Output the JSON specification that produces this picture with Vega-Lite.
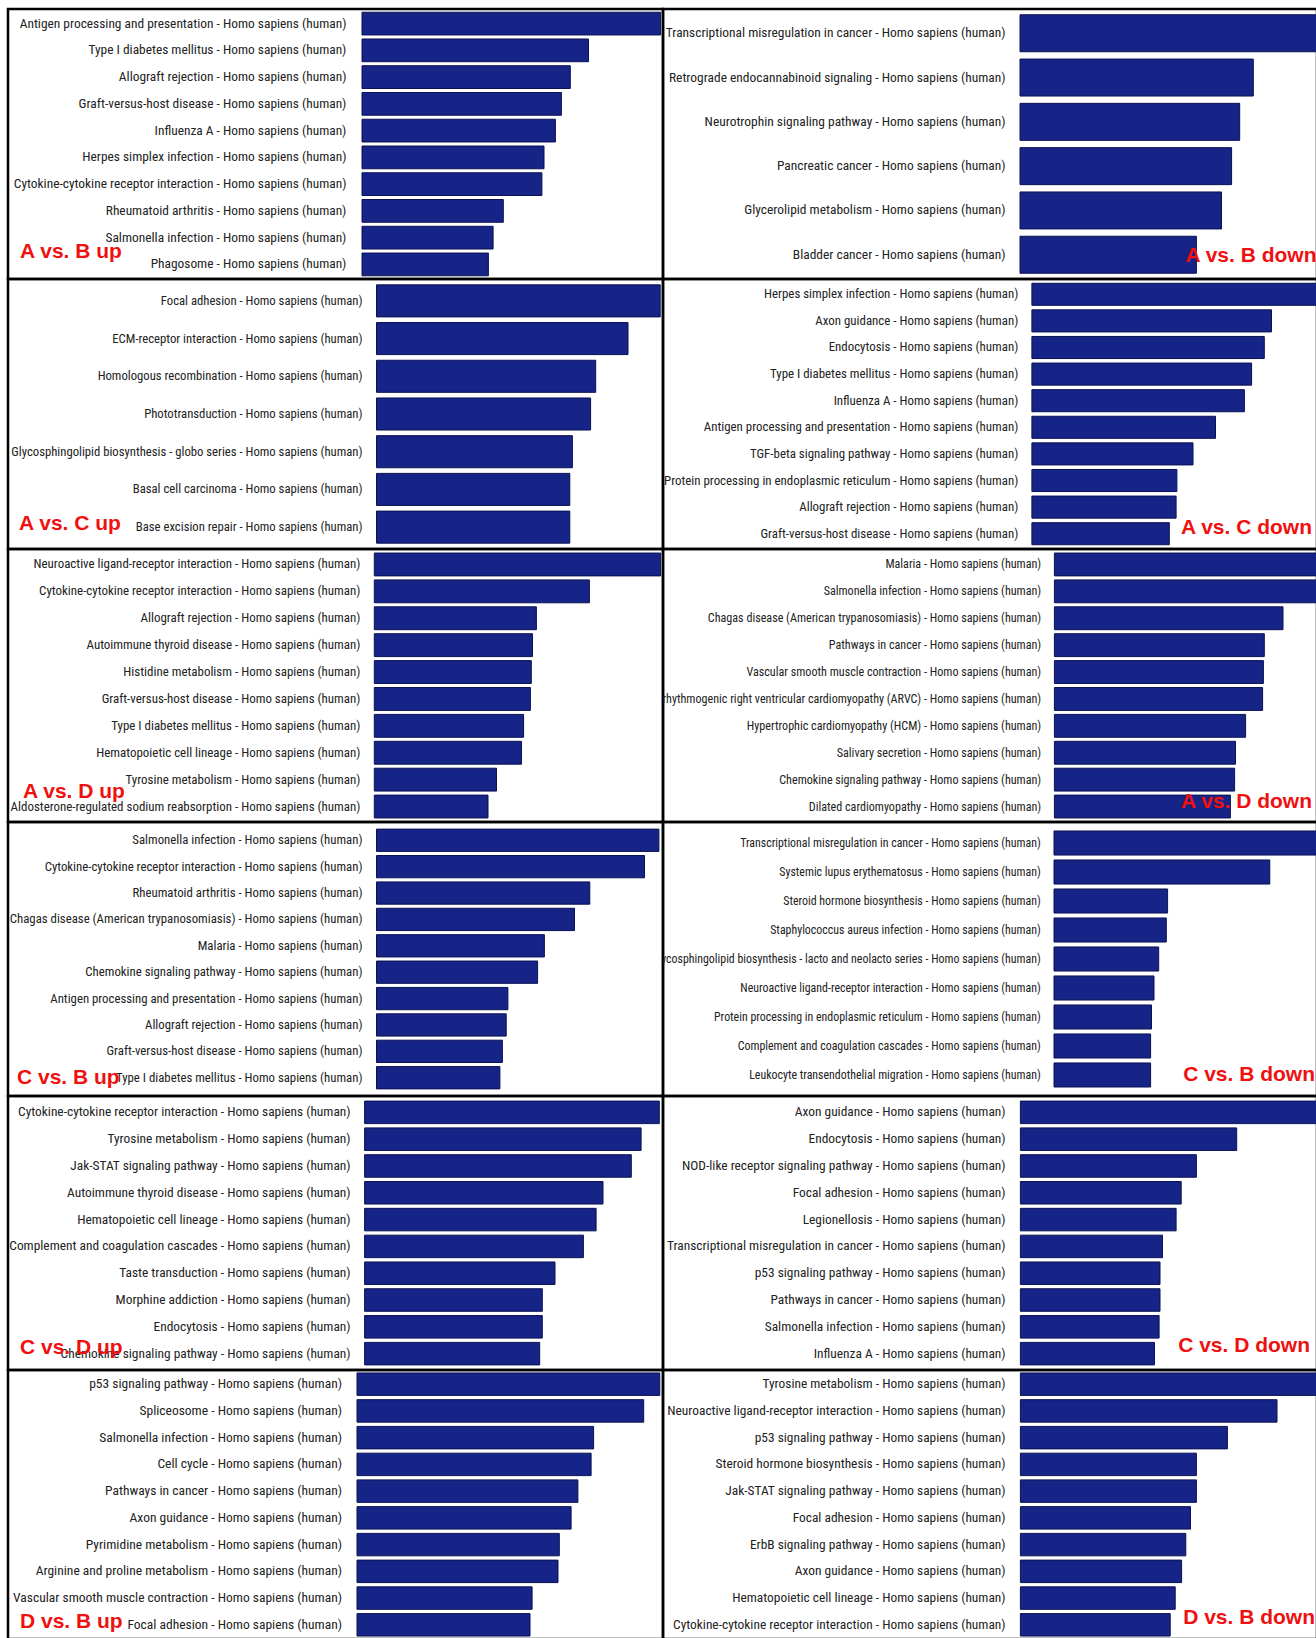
{
  "$schema": "https://vega.github.io/schema/vega-lite/v6.json",
  "background": "white",
  "padding": {"left": 6, "top": 7, "right": 0, "bottom": 0},
  "config": {
    "view": {"stroke": "#000000", "strokeWidth": 2.5},
    "concat": {"spacing": 0},
    "title": {"color": "#f01010", "font": "Liberation Sans", "fontSize": 21, "fontWeight": "bold", "orient": "bottom", "frame": "group", "baseline": "alphabetic"},
    "text": {"font": "Roboto Condensed", "color": "#222222", "align": "right", "baseline": "middle"},
    "bar": {"color": "#162387", "stroke": "#0b1252", "strokeWidth": 1}
  },
  "datasets": {
    "kegg": [
      {"panel": "A vs. B up", "term": "Antigen processing and presentation - Homo sapiens (human)", "score": 298.6},
      {"panel": "A vs. B up", "term": "Type I diabetes mellitus - Homo sapiens (human)", "score": 226.5},
      {"panel": "A vs. B up", "term": "Allograft rejection - Homo sapiens (human)", "score": 208.3},
      {"panel": "A vs. B up", "term": "Graft-versus-host disease - Homo sapiens (human)", "score": 199.4},
      {"panel": "A vs. B up", "term": "Influenza A - Homo sapiens (human)", "score": 193.4},
      {"panel": "A vs. B up", "term": "Herpes simplex infection - Homo sapiens (human)", "score": 182.0},
      {"panel": "A vs. B up", "term": "Cytokine-cytokine receptor interaction - Homo sapiens (human)", "score": 179.9},
      {"panel": "A vs. B up", "term": "Rheumatoid arthritis - Homo sapiens (human)", "score": 141.3},
      {"panel": "A vs. B up", "term": "Salmonella infection - Homo sapiens (human)", "score": 131.1},
      {"panel": "A vs. B up", "term": "Phagosome - Homo sapiens (human)", "score": 126.4},

      {"panel": "A vs. B down", "term": "Transcriptional misregulation in cancer - Homo sapiens (human)", "score": 299.4},
      {"panel": "A vs. B down", "term": "Retrograde endocannabinoid signaling - Homo sapiens (human)", "score": 233.3},
      {"panel": "A vs. B down", "term": "Neurotrophin signaling pathway - Homo sapiens (human)", "score": 219.7},
      {"panel": "A vs. B down", "term": "Pancreatic cancer - Homo sapiens (human)", "score": 211.6},
      {"panel": "A vs. B down", "term": "Glycerolipid metabolism - Homo sapiens (human)", "score": 201.5},
      {"panel": "A vs. B down", "term": "Bladder cancer - Homo sapiens (human)", "score": 176.4},

      {"panel": "A vs. C up", "term": "Focal adhesion - Homo sapiens (human)", "score": 283.7},
      {"panel": "A vs. C up", "term": "ECM-receptor interaction - Homo sapiens (human)", "score": 251.5},
      {"panel": "A vs. C up", "term": "Homologous recombination - Homo sapiens (human)", "score": 219.2},
      {"panel": "A vs. C up", "term": "Phototransduction - Homo sapiens (human)", "score": 214.1},
      {"panel": "A vs. C up", "term": "Glycosphingolipid biosynthesis - globo series - Homo sapiens (human)", "score": 195.9},
      {"panel": "A vs. C up", "term": "Basal cell carcinoma - Homo sapiens (human)", "score": 193.3},
      {"panel": "A vs. C up", "term": "Base excision repair - Homo sapiens (human)", "score": 193.3},

      {"panel": "A vs. C down", "term": "Herpes simplex infection - Homo sapiens (human)", "score": 287.5},
      {"panel": "A vs. C down", "term": "Axon guidance - Homo sapiens (human)", "score": 239.6},
      {"panel": "A vs. C down", "term": "Endocytosis - Homo sapiens (human)", "score": 232.4},
      {"panel": "A vs. C down", "term": "Type I diabetes mellitus - Homo sapiens (human)", "score": 219.7},
      {"panel": "A vs. C down", "term": "Influenza A - Homo sapiens (human)", "score": 212.5},
      {"panel": "A vs. C down", "term": "Antigen processing and presentation - Homo sapiens (human)", "score": 183.6},
      {"panel": "A vs. C down", "term": "TGF-beta signaling pathway - Homo sapiens (human)", "score": 161.1},
      {"panel": "A vs. C down", "term": "Protein processing in endoplasmic reticulum - Homo sapiens (human)", "score": 145.0},
      {"panel": "A vs. C down", "term": "Allograft rejection - Homo sapiens (human)", "score": 144.2},
      {"panel": "A vs. C down", "term": "Graft-versus-host disease - Homo sapiens (human)", "score": 137.4},

      {"panel": "A vs. D up", "term": "Neuroactive ligand-receptor interaction - Homo sapiens (human)", "score": 286.3},
      {"panel": "A vs. D up", "term": "Cytokine-cytokine receptor interaction - Homo sapiens (human)", "score": 215.1},
      {"panel": "A vs. D up", "term": "Allograft rejection - Homo sapiens (human)", "score": 162.1},
      {"panel": "A vs. D up", "term": "Autoimmune thyroid disease - Homo sapiens (human)", "score": 158.2},
      {"panel": "A vs. D up", "term": "Histidine metabolism - Homo sapiens (human)", "score": 157.0},
      {"panel": "A vs. D up", "term": "Graft-versus-host disease - Homo sapiens (human)", "score": 156.1},
      {"panel": "A vs. D up", "term": "Type I diabetes mellitus - Homo sapiens (human)", "score": 149.3},
      {"panel": "A vs. D up", "term": "Hematopoietic cell lineage - Homo sapiens (human)", "score": 147.2},
      {"panel": "A vs. D up", "term": "Tyrosine metabolism - Homo sapiens (human)", "score": 122.2},
      {"panel": "A vs. D up", "term": "Aldosterone-regulated sodium reabsorption - Homo sapiens (human)", "score": 113.7},

      {"panel": "A vs. D down", "term": "Malaria - Homo sapiens (human)", "score": 265.0},
      {"panel": "A vs. D down", "term": "Salmonella infection - Homo sapiens (human)", "score": 264.2},
      {"panel": "A vs. D down", "term": "Chagas disease (American trypanosomiasis) - Homo sapiens (human)", "score": 228.6},
      {"panel": "A vs. D down", "term": "Pathways in cancer - Homo sapiens (human)", "score": 209.9},
      {"panel": "A vs. D down", "term": "Vascular smooth muscle contraction - Homo sapiens (human)", "score": 209.0},
      {"panel": "A vs. D down", "term": "Arrhythmogenic right ventricular cardiomyopathy (ARVC) - Homo sapiens (human)", "score": 208.2},
      {"panel": "A vs. D down", "term": "Hypertrophic cardiomyopathy (HCM) - Homo sapiens (human)", "score": 191.2},
      {"panel": "A vs. D down", "term": "Salivary secretion - Homo sapiens (human)", "score": 181.1},
      {"panel": "A vs. D down", "term": "Chemokine signaling pathway - Homo sapiens (human)", "score": 180.2},
      {"panel": "A vs. D down", "term": "Dilated cardiomyopathy - Homo sapiens (human)", "score": 176.0},

      {"panel": "C vs. B up", "term": "Salmonella infection - Homo sapiens (human)", "score": 282.4},
      {"panel": "C vs. B up", "term": "Cytokine-cytokine receptor interaction - Homo sapiens (human)", "score": 268.0},
      {"panel": "C vs. B up", "term": "Rheumatoid arthritis - Homo sapiens (human)", "score": 213.3},
      {"panel": "C vs. B up", "term": "Chagas disease (American trypanosomiasis) - Homo sapiens (human)", "score": 198.0},
      {"panel": "C vs. B up", "term": "Malaria - Homo sapiens (human)", "score": 167.9},
      {"panel": "C vs. B up", "term": "Chemokine signaling pathway - Homo sapiens (human)", "score": 161.1},
      {"panel": "C vs. B up", "term": "Antigen processing and presentation - Homo sapiens (human)", "score": 131.4},
      {"panel": "C vs. B up", "term": "Allograft rejection - Homo sapiens (human)", "score": 129.7},
      {"panel": "C vs. B up", "term": "Graft-versus-host disease - Homo sapiens (human)", "score": 125.9},
      {"panel": "C vs. B up", "term": "Type I diabetes mellitus - Homo sapiens (human)", "score": 123.4},

      {"panel": "C vs. B down", "term": "Transcriptional misregulation in cancer - Homo sapiens (human)", "score": 264.6},
      {"panel": "C vs. B down", "term": "Systemic lupus erythematosus - Homo sapiens (human)", "score": 215.8},
      {"panel": "C vs. B down", "term": "Steroid hormone biosynthesis - Homo sapiens (human)", "score": 113.6},
      {"panel": "C vs. B down", "term": "Staphylococcus aureus infection - Homo sapiens (human)", "score": 112.3},
      {"panel": "C vs. B down", "term": "Glycosphingolipid biosynthesis - lacto and neolacto series - Homo sapiens (human)", "score": 104.7},
      {"panel": "C vs. B down", "term": "Neuroactive ligand-receptor interaction - Homo sapiens (human)", "score": 100.0},
      {"panel": "C vs. B down", "term": "Protein processing in endoplasmic reticulum - Homo sapiens (human)", "score": 97.5},
      {"panel": "C vs. B down", "term": "Complement and coagulation cascades - Homo sapiens (human)", "score": 96.6},
      {"panel": "C vs. B down", "term": "Leukocyte transendothelial migration - Homo sapiens (human)", "score": 96.6},

      {"panel": "C vs. D up", "term": "Cytokine-cytokine receptor interaction - Homo sapiens (human)", "score": 294.7},
      {"panel": "C vs. D up", "term": "Tyrosine metabolism - Homo sapiens (human)", "score": 276.5},
      {"panel": "C vs. D up", "term": "Jak-STAT signaling pathway - Homo sapiens (human)", "score": 266.7},
      {"panel": "C vs. D up", "term": "Autoimmune thyroid disease - Homo sapiens (human)", "score": 238.4},
      {"panel": "C vs. D up", "term": "Hematopoietic cell lineage - Homo sapiens (human)", "score": 231.5},
      {"panel": "C vs. D up", "term": "Complement and coagulation cascades - Homo sapiens (human)", "score": 218.8},
      {"panel": "C vs. D up", "term": "Taste transduction - Homo sapiens (human)", "score": 190.4},
      {"panel": "C vs. D up", "term": "Morphine addiction - Homo sapiens (human)", "score": 177.7},
      {"panel": "C vs. D up", "term": "Endocytosis - Homo sapiens (human)", "score": 177.7},
      {"panel": "C vs. D up", "term": "Chemokine signaling pathway - Homo sapiens (human)", "score": 175.1},

      {"panel": "C vs. D down", "term": "Axon guidance - Homo sapiens (human)", "score": 299.0},
      {"panel": "C vs. D down", "term": "Endocytosis - Homo sapiens (human)", "score": 216.3},
      {"panel": "C vs. D down", "term": "NOD-like receptor signaling pathway - Homo sapiens (human)", "score": 176.0},
      {"panel": "C vs. D down", "term": "Focal adhesion - Homo sapiens (human)", "score": 160.8},
      {"panel": "C vs. D down", "term": "Legionellosis - Homo sapiens (human)", "score": 155.7},
      {"panel": "C vs. D down", "term": "Transcriptional misregulation in cancer - Homo sapiens (human)", "score": 142.1},
      {"panel": "C vs. D down", "term": "p53 signaling pathway - Homo sapiens (human)", "score": 139.6},
      {"panel": "C vs. D down", "term": "Pathways in cancer - Homo sapiens (human)", "score": 139.6},
      {"panel": "C vs. D down", "term": "Salmonella infection - Homo sapiens (human)", "score": 138.7},
      {"panel": "C vs. D down", "term": "Influenza A - Homo sapiens (human)", "score": 134.1},

      {"panel": "D vs. B up", "term": "p53 signaling pathway - Homo sapiens (human)", "score": 302.8},
      {"panel": "D vs. B up", "term": "Spliceosome - Homo sapiens (human)", "score": 286.7},
      {"panel": "D vs. B up", "term": "Salmonella infection - Homo sapiens (human)", "score": 236.6},
      {"panel": "D vs. B up", "term": "Cell cycle - Homo sapiens (human)", "score": 234.1},
      {"panel": "D vs. B up", "term": "Pathways in cancer - Homo sapiens (human)", "score": 220.9},
      {"panel": "D vs. B up", "term": "Axon guidance - Homo sapiens (human)", "score": 214.1},
      {"panel": "D vs. B up", "term": "Pyrimidine metabolism - Homo sapiens (human)", "score": 202.3},
      {"panel": "D vs. B up", "term": "Arginine and proline metabolism - Homo sapiens (human)", "score": 201.0},
      {"panel": "D vs. B up", "term": "Vascular smooth muscle contraction - Homo sapiens (human)", "score": 175.1},
      {"panel": "D vs. B up", "term": "Focal adhesion - Homo sapiens (human)", "score": 173.0},

      {"panel": "D vs. B down", "term": "Tyrosine metabolism - Homo sapiens (human)", "score": 299.0},
      {"panel": "D vs. B down", "term": "Neuroactive ligand-receptor interaction - Homo sapiens (human)", "score": 256.6},
      {"panel": "D vs. B down", "term": "p53 signaling pathway - Homo sapiens (human)", "score": 207.0},
      {"panel": "D vs. B down", "term": "Steroid hormone biosynthesis - Homo sapiens (human)", "score": 176.0},
      {"panel": "D vs. B down", "term": "Jak-STAT signaling pathway - Homo sapiens (human)", "score": 176.0},
      {"panel": "D vs. B down", "term": "Focal adhesion - Homo sapiens (human)", "score": 170.1},
      {"panel": "D vs. B down", "term": "ErbB signaling pathway - Homo sapiens (human)", "score": 165.4},
      {"panel": "D vs. B down", "term": "Axon guidance - Homo sapiens (human)", "score": 161.2},
      {"panel": "D vs. B down", "term": "Hematopoietic cell lineage - Homo sapiens (human)", "score": 154.8},
      {"panel": "D vs. B down", "term": "Cytokine-cytokine receptor interaction - Homo sapiens (human)", "score": 149.8}
    ]
  },
  "data": {"name": "kegg"},
  "columns": 2,
  "spacing": 0,
  "bounds": "flush",
  "resolve": {"scale": {"x": "independent", "y": "independent"}},
  "concat": [
    {
      "width": 655, "height": 270,
      "transform": [{"filter": {"field": "panel", "equal": "A vs. B up"}}],
      "title": {"text": "A vs. B up", "anchor": "start", "dx": 12, "offset": -18, "dy": -20},
      "encoding": {"y": {"field": "term", "type": "nominal", "sort": null, "axis": null, "scale": {"paddingInner": 0.15, "paddingOuter": 0.12}}},
      "layer": [
        {"mark": {"type": "bar", "clip": true},
         "encoding": {"x": {"field": "score", "type": "quantitative", "axis": null, "scale": {"domain": [0, 298.6], "range": [354, 652.6], "nice": false}}}},
        {"mark": {"type": "text", "dx": -15.6, "clip": true, "fontSize": 13.4},
         "encoding": {"x": {"datum": 0}, "text": {"field": "term"}}}
      ]
    },
    {
      "width": 654, "height": 270,
      "transform": [{"filter": {"field": "panel", "equal": "A vs. B down"}}],
      "title": {"text": "A vs. B down", "anchor": "end", "dx": -0.5, "offset": -14, "dy": -20},
      "encoding": {"y": {"field": "term", "type": "nominal", "sort": null, "axis": null, "scale": {"paddingInner": 0.165, "paddingOuter": 0.13}}},
      "layer": [
        {"mark": {"type": "bar", "clip": true},
         "encoding": {"x": {"field": "score", "type": "quantitative", "axis": null, "scale": {"domain": [0, 299.4], "range": [357, 656.4], "nice": false}}}},
        {"mark": {"type": "text", "dx": -14.4, "clip": true, "fontSize": 13.45},
         "encoding": {"x": {"datum": 0}, "text": {"field": "term"}}}
      ]
    },
    {
      "width": 655, "height": 270,
      "transform": [{"filter": {"field": "panel", "equal": "A vs. C up"}}],
      "title": {"text": "A vs. C up", "anchor": "start", "dx": 11, "offset": -17, "dy": -19},
      "encoding": {"y": {"field": "term", "type": "nominal", "sort": null, "axis": null, "scale": {"paddingInner": 0.15, "paddingOuter": 0.155}}},
      "layer": [
        {"mark": {"type": "bar", "clip": true},
         "encoding": {"x": {"field": "score", "type": "quantitative", "axis": null, "scale": {"domain": [0, 283.7], "range": [368.5, 652.2], "nice": false}}}},
        {"mark": {"type": "text", "dx": -14, "clip": true, "fontSize": 12.7},
         "encoding": {"x": {"datum": 0}, "text": {"field": "term"}}}
      ]
    },
    {
      "width": 654, "height": 270,
      "transform": [{"filter": {"field": "panel", "equal": "A vs. C down"}}],
      "title": {"text": "A vs. C down", "anchor": "end", "dx": -5, "offset": -15, "dy": -17},
      "encoding": {"y": {"field": "term", "type": "nominal", "sort": null, "axis": null, "scale": {"paddingInner": 0.17, "paddingOuter": 0.16}}},
      "layer": [
        {"mark": {"type": "bar", "clip": true},
         "encoding": {"x": {"field": "score", "type": "quantitative", "axis": null, "scale": {"domain": [0, 287.5], "range": [368.9, 656.4], "nice": false}}}},
        {"mark": {"type": "text", "dx": -13.6, "clip": true, "fontSize": 12.9},
         "encoding": {"x": {"datum": 0}, "text": {"field": "term"}}}
      ]
    },
    {
      "width": 655, "height": 273,
      "transform": [{"filter": {"field": "panel", "equal": "A vs. D up"}}],
      "title": {"text": "A vs. D up", "anchor": "start", "dx": 15, "offset": -22, "dy": -19},
      "encoding": {"y": {"field": "term", "type": "nominal", "sort": null, "axis": null, "scale": {"paddingInner": 0.15, "paddingOuter": 0.15}}},
      "layer": [
        {"mark": {"type": "bar", "clip": true},
         "encoding": {"x": {"field": "score", "type": "quantitative", "axis": null, "scale": {"domain": [0, 286.3], "range": [366.3, 652.6], "nice": false}}}},
        {"mark": {"type": "text", "dx": -13.9, "clip": true, "fontSize": 12.95},
         "encoding": {"x": {"datum": 0}, "text": {"field": "term"}}}
      ]
    },
    {
      "width": 654, "height": 273,
      "transform": [{"filter": {"field": "panel", "equal": "A vs. D down"}}],
      "title": {"text": "A vs. D down", "anchor": "end", "dx": -5, "offset": -12, "dy": -19},
      "encoding": {"y": {"field": "term", "type": "nominal", "sort": null, "axis": null, "scale": {"paddingInner": 0.15, "paddingOuter": 0.15}}},
      "layer": [
        {"mark": {"type": "bar", "clip": true},
         "encoding": {"x": {"field": "score", "type": "quantitative", "axis": null, "scale": {"domain": [0, 265.0], "range": [391.4, 656.4], "nice": false}}}},
        {"mark": {"type": "text", "dx": -13.2, "clip": true, "fontSize": 12.1},
         "encoding": {"x": {"datum": 0}, "text": {"field": "term"}}}
      ]
    },
    {
      "width": 655, "height": 274,
      "transform": [{"filter": {"field": "panel", "equal": "C vs. B up"}}],
      "title": {"text": "C vs. B up", "anchor": "start", "dx": 9, "offset": -11, "dy": -18},
      "encoding": {"y": {"field": "term", "type": "nominal", "sort": null, "axis": null, "scale": {"paddingInner": 0.155, "paddingOuter": 0.27}}},
      "layer": [
        {"mark": {"type": "bar", "clip": true},
         "encoding": {"x": {"field": "score", "type": "quantitative", "axis": null, "scale": {"domain": [0, 282.4], "range": [368.5, 650.9], "nice": false}}}},
        {"mark": {"type": "text", "dx": -14, "clip": true, "fontSize": 12.8},
         "encoding": {"x": {"datum": 0}, "text": {"field": "term"}}}
      ]
    },
    {
      "width": 654, "height": 274,
      "transform": [{"filter": {"field": "panel", "equal": "C vs. B down"}}],
      "title": {"text": "C vs. B down", "anchor": "end", "dx": -2, "offset": -13, "dy": -19},
      "encoding": {"y": {"field": "term", "type": "nominal", "sort": null, "axis": null, "scale": {"paddingInner": 0.17, "paddingOuter": 0.31}}},
      "layer": [
        {"mark": {"type": "bar", "clip": true},
         "encoding": {"x": {"field": "score", "type": "quantitative", "axis": null, "scale": {"domain": [0, 264.6], "range": [391, 655.6], "nice": false}}}},
        {"mark": {"type": "text", "dx": -13.2, "clip": true, "fontSize": 11.9},
         "encoding": {"x": {"datum": 0}, "text": {"field": "term"}}}
      ]
    },
    {
      "width": 655, "height": 274,
      "transform": [{"filter": {"field": "panel", "equal": "C vs. D up"}}],
      "title": {"text": "C vs. D up", "anchor": "start", "dx": 12, "offset": -13, "dy": -20},
      "encoding": {"y": {"field": "term", "type": "nominal", "sort": null, "axis": null, "scale": {"paddingInner": 0.16, "paddingOuter": 0.19}}},
      "layer": [
        {"mark": {"type": "bar", "clip": true},
         "encoding": {"x": {"field": "score", "type": "quantitative", "axis": null, "scale": {"domain": [0, 294.7], "range": [356.6, 651.3], "nice": false}}}},
        {"mark": {"type": "text", "dx": -14, "clip": true, "fontSize": 13.4},
         "encoding": {"x": {"datum": 0}, "text": {"field": "term"}}}
      ]
    },
    {
      "width": 654, "height": 274,
      "transform": [{"filter": {"field": "panel", "equal": "C vs. D down"}}],
      "title": {"text": "C vs. D down", "anchor": "end", "dx": -7, "offset": -15, "dy": -20},
      "encoding": {"y": {"field": "term", "type": "nominal", "sort": null, "axis": null, "scale": {"paddingInner": 0.16, "paddingOuter": 0.19}}},
      "layer": [
        {"mark": {"type": "bar", "clip": true},
         "encoding": {"x": {"field": "score", "type": "quantitative", "axis": null, "scale": {"domain": [0, 299.0], "range": [357.4, 656.4], "nice": false}}}},
        {"mark": {"type": "text", "dx": -14.8, "clip": true, "fontSize": 13.4},
         "encoding": {"x": {"datum": 0}, "text": {"field": "term"}}}
      ]
    },
    {
      "width": 655, "height": 269,
      "transform": [{"filter": {"field": "panel", "equal": "D vs. B up"}}],
      "title": {"text": "D vs. B up", "anchor": "start", "dx": 12, "offset": -9, "dy": -19},
      "encoding": {"y": {"field": "term", "type": "nominal", "sort": null, "axis": null, "scale": {"paddingInner": 0.16, "paddingOuter": 0.11}}},
      "layer": [
        {"mark": {"type": "bar", "clip": true},
         "encoding": {"x": {"field": "score", "type": "quantitative", "axis": null, "scale": {"domain": [0, 302.8], "range": [349, 651.8], "nice": false}}}},
        {"mark": {"type": "text", "dx": -14.9, "clip": true, "fontSize": 13.5},
         "encoding": {"x": {"datum": 0}, "text": {"field": "term"}}}
      ]
    },
    {
      "width": 654, "height": 269,
      "transform": [{"filter": {"field": "panel", "equal": "D vs. B down"}}],
      "title": {"text": "D vs. B down", "anchor": "end", "dx": -2, "offset": -12, "dy": -20},
      "encoding": {"y": {"field": "term", "type": "nominal", "sort": null, "axis": null, "scale": {"paddingInner": 0.16, "paddingOuter": 0.11}}},
      "layer": [
        {"mark": {"type": "bar", "clip": true},
         "encoding": {"x": {"field": "score", "type": "quantitative", "axis": null, "scale": {"domain": [0, 299.0], "range": [357.4, 656.4], "nice": false}}}},
        {"mark": {"type": "text", "dx": -14.8, "clip": true, "fontSize": 13.4},
         "encoding": {"x": {"datum": 0}, "text": {"field": "term"}}}
      ]
    }
  ]
}
